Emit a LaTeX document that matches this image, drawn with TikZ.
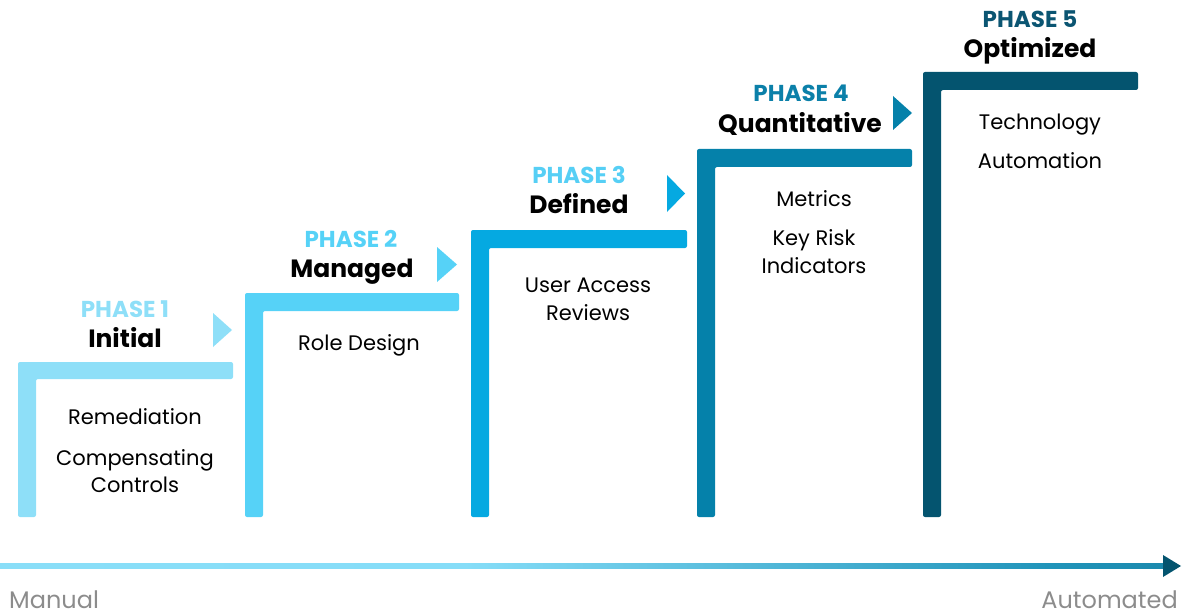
\documentclass[tikz,border=0pt]{standalone}
\usepackage{fontspec}
\setmainfont{Poppins}
\usetikzlibrary{calc}
\definecolor{cA}{HTML}{8EDFF8}
\definecolor{cB}{HTML}{56D2F7}
\definecolor{cC}{HTML}{05A9E1}
\definecolor{cD}{HTML}{0581AA}
\definecolor{cE}{HTML}{04546F}
\definecolor{pC}{HTML}{56CFF5}
\definecolor{pD}{HTML}{0B80A9}
\definecolor{pE}{HTML}{0B5572}
\definecolor{axgray}{HTML}{8C8C8C}
\pgfdeclarehorizontalshading{axisgrad}{100bp}{color(0bp)=(cA); color(45bp)=(cA!85!cB); color(70bp)=(cD!80!cA); color(100bp)=(cE)}
\begin{document}
\begin{tikzpicture}[x=1pt,y=-1pt,
  phaselbl/.style={anchor=base,font=\fontsize{23}{27}\selectfont\bfseries,inner sep=0pt},
  titlelbl/.style={anchor=base,font=\fontsize{25}{30}\selectfont\bfseries,inner sep=0pt,text=black},
  bodylbl/.style={anchor=base,font=\fontsize{21}{26}\selectfont,inner sep=0pt,text=black},
  axislbl/.style={anchor=base,font=\fontsize{24}{28}\selectfont,inner sep=0pt,text=axgray},
  stepbar/.style={rounded corners=2pt}]
\useasboundingbox (0,0) rectangle (1184,615);
% steps
\fill[cA,stepbar] (18,517) -- (18,362) -- (233,362) -- (233,379) -- (36,379) -- (36,517) -- cycle;
\fill[cB,stepbar] (245,517) -- (245,293) -- (459,293) -- (459,311) -- (263,311) -- (263,517) -- cycle;
\fill[cC,stepbar] (471,517) -- (471,230) -- (687,230) -- (687,248) -- (489,248) -- (489,517) -- cycle;
\fill[cD,stepbar] (697,517) -- (697,149) -- (912,149) -- (912,167) -- (715,167) -- (715,517) -- cycle;
\fill[cE,stepbar] (923,517) -- (923,72) -- (1138,72) -- (1138,90) -- (941,90) -- (941,517) -- cycle;
% triangles
\fill[cA] (213,313) -- (232,330) -- (213,347) -- cycle;
\fill[cB] (437,247) -- (457,264.5) -- (437,282) -- cycle;
\fill[cC] (667,175) -- (685,193.5) -- (667,212) -- cycle;
\fill[cD] (893,96) -- (912,113) -- (893,130) -- cycle;
% labels phase 1
\node[phaselbl,text=cA] (p1) at (125,317) {PHASE 1};
\node[titlelbl] (t1) at (125,347) {Initial};
\node[bodylbl] (b1a) at (135,424) {Remediation};
\node[bodylbl] (b1b) at (135,465) {Compensating};
\node[bodylbl] (b1c) at (135,492) {Controls};
% phase 2
\node[phaselbl,text=cB] (p2) at (351,247) {PHASE 2};
\node[titlelbl] (t2) at (352,277) {Managed};
\node[bodylbl] (b2a) at (359,350) {Role Design};
% phase 3
\node[phaselbl,text=pC] (p3) at (579,183) {PHASE 3};
\node[titlelbl] (t3) at (579,214) {Defined};
\node[bodylbl] (b3a) at (588,292) {User Access};
\node[bodylbl] (b3b) at (588,320) {Reviews};
% phase 4
\node[phaselbl,text=pD] (p4) at (801,102) {PHASE 4};
\node[titlelbl] (t4) at (800,133) {Quantitative};
\node[bodylbl] (b4a) at (814,207) {Metrics};
\node[bodylbl] (b4b) at (814,245) {Key Risk};
\node[bodylbl] (b4c) at (814,273) {Indicators};
% phase 5
\node[phaselbl,text=pE] (p5) at (1030,28) {PHASE 5};
\node[titlelbl] (t5) at (1030,58) {Optimized};
\node[bodylbl] (b5a) at (1040,130) {Technology};
\node[bodylbl] (b5b) at (1040,169) {Automation};
% axis
\coordinate (axL) at (0,566);
\coordinate (axR) at (1181,566);
\shade[shading=axisgrad] ($(axL)+(0,-2.3)$) rectangle ($(axR)+(-14,2.3)$);
\fill[cE] ($(axR)+(-18,-11)$) -- (axR) -- ($(axR)+(-18,11)$) -- cycle;
\node[axislbl,anchor=base west] (man) at (9,608) {Manual};
\node[axislbl,anchor=base east] (aut) at (1178,608) {Automated};
\end{tikzpicture}
\end{document}
